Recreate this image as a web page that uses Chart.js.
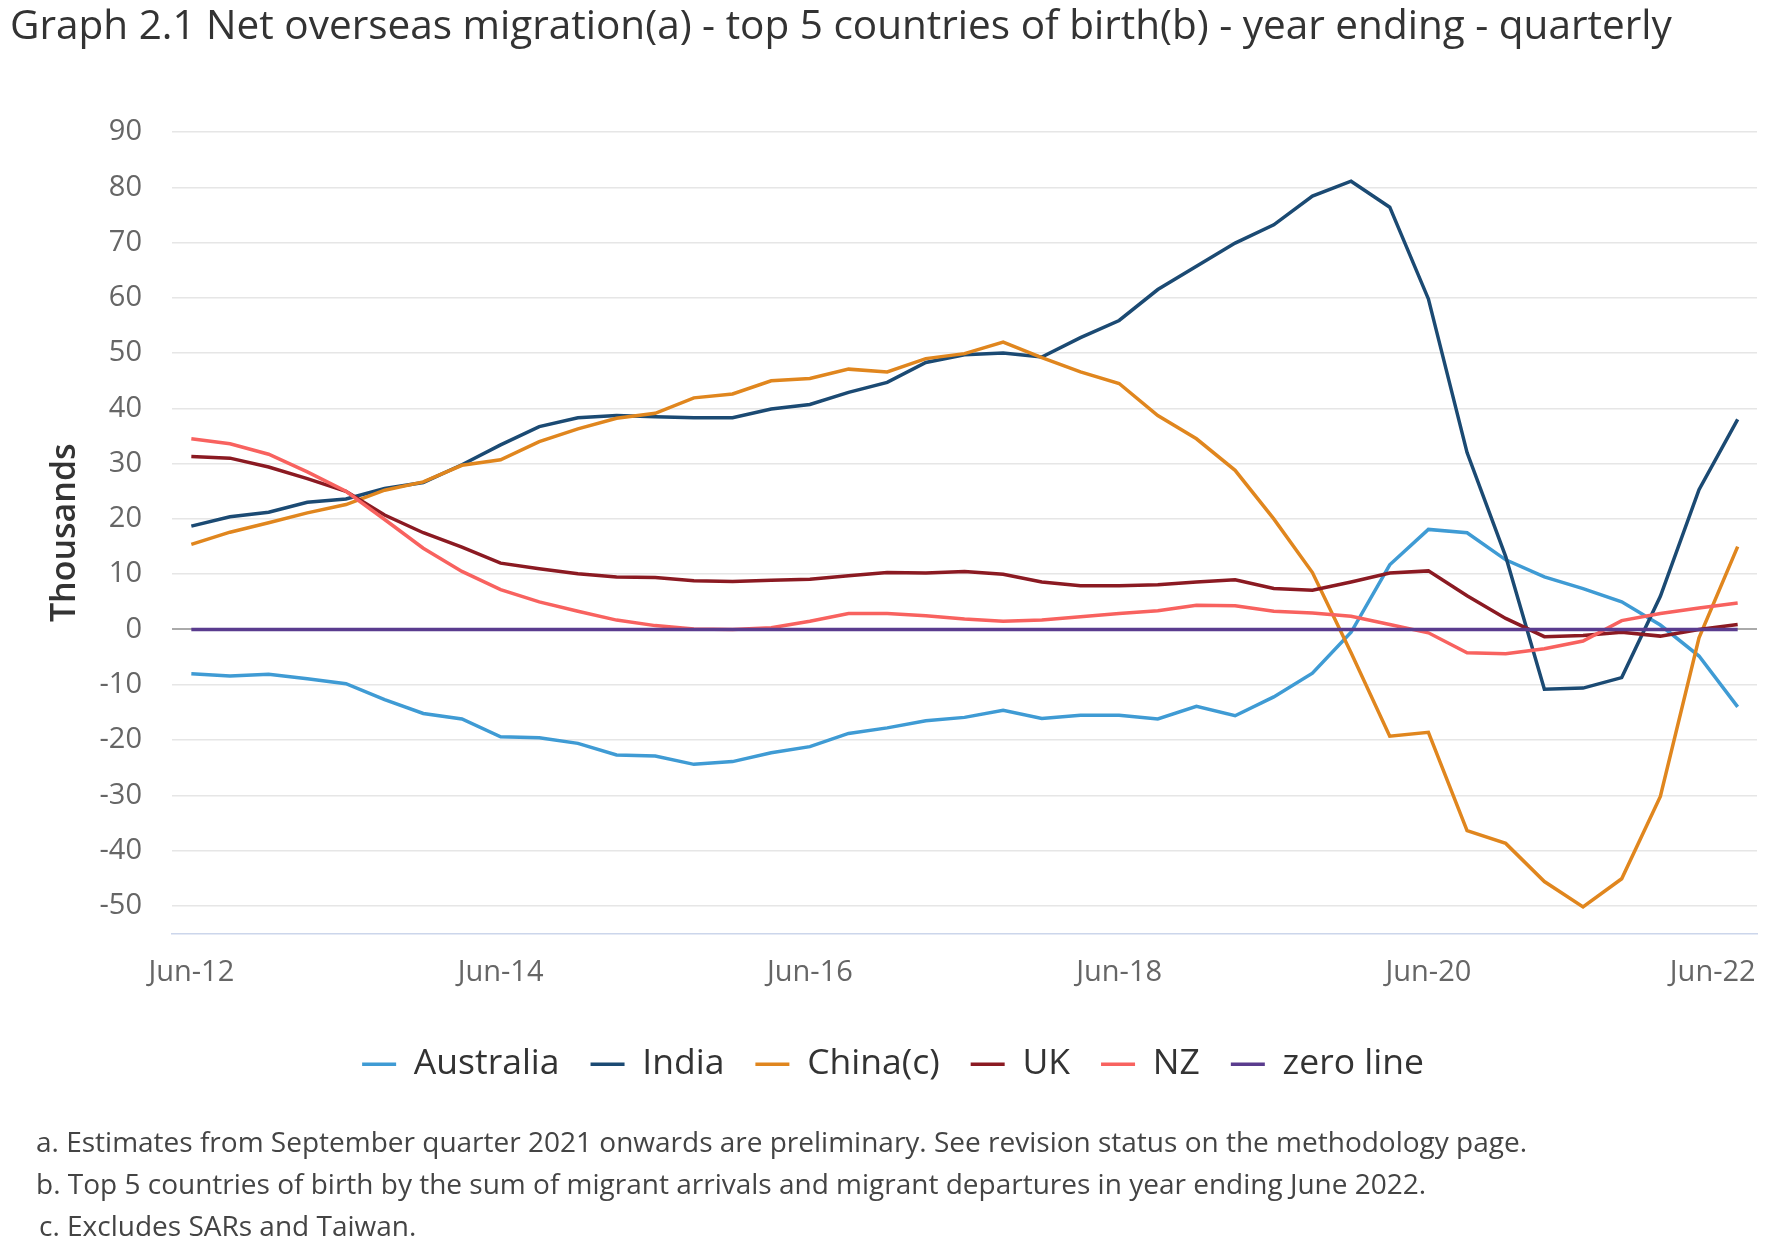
<!DOCTYPE html>
<html>
<head>
<meta charset="utf-8">
<title>Net overseas migration - top 5 countries of birth</title>
<script src="https://cdn.jsdelivr.net/npm/chart.js@4.4.0/dist/chart.umd.min.js"></script>
<style>
  body { margin: 0; background: #fff; font-family: "Open Sans", sans-serif; }
  #wrap { position: relative; width: 1768px; height: 1248px; overflow: hidden; }
  h1 { position: absolute; left: 10px; top: 4px; margin: 0; font-size: 40.5px; font-weight: 400; color: #333; line-height: 1; white-space: nowrap; }
  canvas { position: absolute; left: 0; top: 0; }
  .notes { position: absolute; left: 36px; top: 1120px; font-size: 28px; color: #444; line-height: 42px; }
</style>
</head>
<body>
<div id="wrap">
  <canvas id="lineChart" width="1768" height="1248"></canvas>
  <h1>Graph 2.1 Net overseas migration(a) - top 5 countries of birth(b) - year ending - quarterly</h1>
  <div class="notes">
    <div>a. Estimates from September quarter 2021 onwards are preliminary. See revision status on the methodology page.</div>
    <div>b. Top 5 countries of birth by the sum of migrant arrivals and migrant departures in year ending June 2022.</div>
    <div style="padding-left:3px">c. Excludes SARs and Taiwan.</div>
  </div>
</div>
<script>
const labels = [
  'Jun-12','Sep-12','Dec-12','Mar-13','Jun-13','Sep-13','Dec-13','Mar-14',
  'Jun-14','Sep-14','Dec-14','Mar-15','Jun-15','Sep-15','Dec-15','Mar-16',
  'Jun-16','Sep-16','Dec-16','Mar-17','Jun-17','Sep-17','Dec-17','Mar-18',
  'Jun-18','Sep-18','Dec-18','Mar-19','Jun-19','Sep-19','Dec-19','Mar-20',
  'Jun-20','Sep-20','Dec-20','Mar-21','Jun-21','Sep-21','Dec-21','Mar-22',
  'Jun-22'
];
// shown x labels; the last one sits right-aligned like the original
const xTickLabels = ['Jun-12','Jun-14','Jun-16','Jun-18','Jun-20'];
const xLastLabel = 'Jun-22';
const yTicks = [-50,-40,-30,-20,-10,0,10,20,30,40,50,60,70,80,90];

const australia = [-8.0,-8.4,-8.1,-8.9,-9.8,-12.7,-15.2,-16.2,-19.4,-19.6,-20.6,-22.7,-22.9,-24.4,-23.9,-22.3,-21.2,-18.8,-17.8,-16.5,-15.9,-14.6,-16.1,-15.5,-15.5,-16.2,-13.9,-15.6,-12.2,-7.9,-0.5,11.7,18.1,17.5,12.6,9.5,7.4,5.0,0.8,-4.8,-14.0];
const india = [18.7,20.4,21.2,23.0,23.6,25.5,26.6,29.8,33.4,36.7,38.3,38.7,38.5,38.3,38.3,39.9,40.7,42.9,44.7,48.3,49.7,50.0,49.3,52.8,55.9,61.5,65.7,69.9,73.2,78.4,81.1,76.4,59.8,32.0,13.2,-10.8,-10.6,-8.7,6.0,25.3,38.0];
const china = [15.4,17.6,19.3,21.1,22.6,25.2,26.7,29.7,30.7,34.0,36.3,38.2,39.1,41.9,42.6,45.0,45.4,47.1,46.6,49.0,49.9,52.0,49.2,46.6,44.5,38.7,34.5,28.8,20.0,10.3,-4.2,-19.3,-18.6,-36.4,-38.7,-45.6,-50.2,-45.1,-30.2,-1.5,15.0];
const uk = [31.3,31.0,29.4,27.3,25.0,20.7,17.5,14.9,12.0,11.0,10.1,9.5,9.4,8.8,8.7,8.9,9.1,9.7,10.3,10.2,10.5,10.0,8.6,7.9,7.9,8.1,8.6,9.0,7.4,7.1,8.6,10.2,10.6,6.1,2.0,-1.3,-1.1,-0.5,-1.2,0.0,0.9];
const nz = [34.5,33.6,31.7,28.5,25.0,19.9,14.7,10.5,7.2,5.0,3.3,1.7,0.7,0.1,0.0,0.3,1.5,2.9,2.9,2.5,1.9,1.5,1.7,2.3,2.9,3.4,4.4,4.3,3.3,3.0,2.4,0.9,-0.6,-4.2,-4.4,-3.5,-2.1,1.6,2.9,3.9,4.8];
const zeroLine = [0,0,0,0,0,0,0,0,0,0,0,0,0,0,0,0,0,0,0,0,0,0,0,0,0,0,0,0,0,0,0,0,0,0,0,0,0,0,0,0,0];

const series = [
  { label: 'Australia', data: australia, color: '#3f9bd4' },
  { label: 'India', data: india, color: '#1b4a73' },
  { label: 'China(c)', data: china, color: '#e0861e' },
  { label: 'UK', data: uk, color: '#8b1a22' },
  { label: 'NZ', data: nz, color: '#f8625f' },
  { label: 'zero line', data: zeroLine, color: '#5a3c8e' }
];

const font = 'Open Sans';
const tickFont = { family: font, size: 29 };

new Chart(document.getElementById('lineChart').getContext('2d'), {
  type: 'line',
  data: {
    labels,
    datasets: series.map((s, i) => ({
      label: s.label,
      data: s.data,
      borderColor: s.color,
      backgroundColor: s.color,
      borderWidth: 3.5,
      pointRadius: 0,
      tension: 0,
      order: series.length - i   // later series on top
    }))
  },
  options: {
    responsive: false,
    animation: false,
    devicePixelRatio: 1,
    layout: { padding: { top: 132, right: 11, bottom: 156, left: 29 } },
    plugins: {
      tooltip: { enabled: false },
      legend: {
        position: 'bottom',
        labels: {
          usePointStyle: true,
          pointStyle: 'line',
          pointStyleWidth: 34,
          padding: 31,
          color: '#333',
          font: { family: font, size: 35.5 },
          sort: (a, b) => a.datasetIndex - b.datasetIndex
        }
      }
    },
    scales: {
      x: {
        offset: true,
        grid: { display: false, drawTicks: false },
        border: { display: true, color: '#ccd6eb', width: 1.5 },
        ticks: {
          autoSkip: false,
          maxRotation: 0,
          minRotation: 0,
          padding: 22,
          color: '#666',
          font: tickFont,
          callback: function (value) {
            const l = this.getLabelForValue(value);
            return xTickLabels.includes(l) ? l : null;
          }
        },
        afterFit: (scale) => { scale.height = 82; }
      },
      // second category axis only carries the last label, right-aligned
      x2: {
        type: 'category',
        position: 'bottom',
        offset: true,
        grid: { display: false, drawTicks: false },
        border: { display: false },
        ticks: {
          autoSkip: false,
          maxRotation: 0,
          minRotation: 0,
          align: 'end',
          mirror: true,
          labelOffset: 18,
          padding: 25,
          color: '#666',
          font: tickFont,
          callback: function (value) {
            const l = this.getLabelForValue(value);
            return l === xLastLabel ? l : null;
          }
        },
        afterFit: (scale) => { scale.height = 0; }
      },
      y: {
        min: -55,
        max: 90,
        afterBuildTicks: (scale) => {
          scale.ticks = yTicks.map(v => ({ value: v }));
        },
        afterFit: (scale) => { scale.width = 143; },
        grid: {
          drawTicks: false,
          color: (ctx) => ctx.tick && ctx.tick.value === 0 ? '#aaaaaa' : '#e6e6e6',
          lineWidth: (ctx) => ctx.tick && ctx.tick.value === 0 ? 2 : 1.5
        },
        border: { display: false },
        ticks: {
          padding: 30,
          color: '#666',
          font: tickFont
        },
        title: {
          display: true,
          text: 'Thousands',
          color: '#333',
          font: { family: font, size: 34, weight: '600' },
          padding: { top: 16, bottom: 0 }
        }
      }
    }
  }
});
</script>
</body>
</html>
